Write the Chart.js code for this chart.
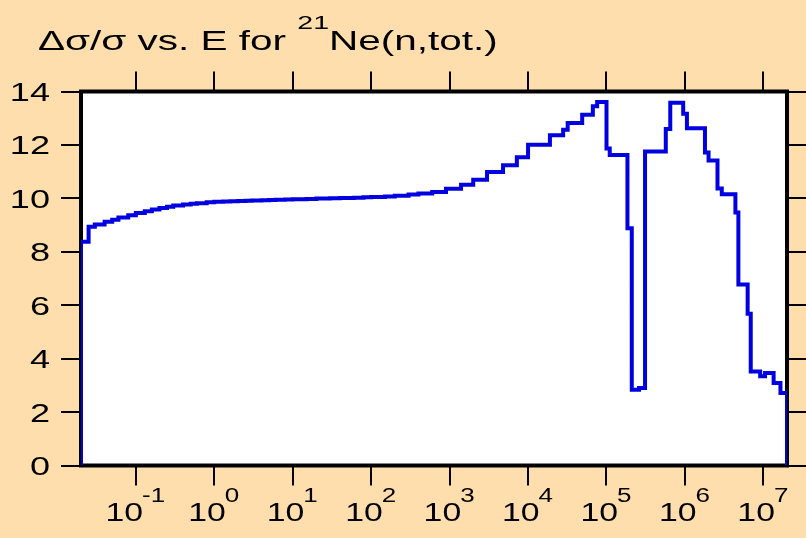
<!DOCTYPE html>
<html>
<head>
<meta charset="utf-8">
<script src="https://cdn.jsdelivr.net/npm/chart.js@4"></script>
<style>
  html, body { margin: 0; padding: 0; background: #FFDEAD; }
  canvas { display: block; }
</style>
</head>
<body>
<canvas id="uncChart" width="806" height="538"></canvas>
<script>
// ===== Data: relative uncertainty (%) per energy group, edges in eV =====
const energyEdges = [
    0.02, 0.025, 0.03, 0.04, 0.05, 0.06, 0.08, 0.1, 0.13, 0.16,
    0.2, 0.25, 0.3, 0.4, 0.5, 0.6, 0.8, 1, 1.3, 1.6,
    2, 2.5, 3, 4, 5, 6, 8, 10, 15, 20,
    30, 40, 60, 80, 100, 150, 200, 300, 400, 600,
    900, 1400, 2000, 3000, 4800, 7200, 1e4, 1.9e4, 2.8e4, 3.2e4,
    4.9e4, 6.7e4, 7.6e4, 1e5, 1.1e5, 1.85e5, 2.1e5, 2.6e5, 3.1e5, 5.7e5,
    6.5e5, 9.5e5, 1.06e6, 1.8e6, 2e6, 2.6e6, 2.95e6, 4.4e6, 4.8e6, 6.3e6,
    6.9e6, 9.1e6, 1.05e7, 1.35e7, 1.65e7, 2e7
];
const relUnc = [
    8.38, 8.94, 9.02, 9.12, 9.20, 9.28, 9.37, 9.45, 9.52, 9.58,
    9.64, 9.69, 9.73, 9.77, 9.80, 9.82, 9.85, 9.87, 9.88, 9.89,
    9.90, 9.91, 9.92, 9.93, 9.94, 9.95, 9.96, 9.97, 9.98, 9.99,
    10.00, 10.01, 10.02, 10.04, 10.05, 10.07, 10.10, 10.14, 10.18, 10.24,
    10.36, 10.51, 10.70, 10.99, 11.24, 11.54, 12.01, 12.36, 12.57, 12.82,
    13.13, 13.45, 13.61, 11.87, 11.62, 8.88, 2.84, 2.90, 11.75, 12.60,
    13.58, 13.17, 12.62, 11.72, 11.42, 10.37, 10.15, 9.47, 6.78, 5.68,
    3.52, 3.34, 3.46, 3.09, 2.71
];
const xTickValues = [0.1, 1, 10, 100, 1e3, 1e4, 1e5, 1e6, 1e7];
const xTickExponents = ['-1', '0', '1', '2', '3', '4', '5', '6', '7'];
const yTickValues = [0, 2, 4, 6, 8, 10, 12, 14];
const xRange = [0.02, 2e7];
const yRange = [0, 14];

// histogram outline: start at zero, one point per group, drop back to zero
const histPoints = [{ x: energyEdges[0], y: 0 }];
relUnc.forEach((v, i) => histPoints.push({ x: energyEdges[i], y: v }));
histPoints.push({ x: energyEdges[energyEdges.length - 1], y: 0 });

// ===== Text helpers (glyphs are drawn wide) =====
const FONT = '"Liberation Sans", Arial, sans-serif';

function wideText(ctx, text, x, y, size, sx) {
    ctx.save();
    ctx.font = size + 'px ' + FONT;
    ctx.translate(x, y);
    ctx.scale(sx, 1);
    ctx.fillText(text, 0, 0);
    ctx.restore();
}
function wideWidth(ctx, text, size, sx) {
    ctx.font = size + 'px ' + FONT;
    return ctx.measureText(text).width * sx;
}

const framePlugin = {
    id: 'frame',
    beforeDraw(chart) {
        const { ctx, chartArea: a } = chart;
        ctx.save();
        ctx.fillStyle = '#FFDEAD';
        ctx.fillRect(0, 0, chart.width, chart.height);
        ctx.fillStyle = '#ffffff';
        ctx.fillRect(a.left, a.top, a.right - a.left, a.bottom - a.top);
        ctx.restore();
    },
    beforeDatasetsDraw(chart) {
        const { ctx, chartArea: a } = chart;
        ctx.save();
        ctx.strokeStyle = '#000';
        ctx.lineWidth = 4;
        ctx.strokeRect(a.left, a.top, a.right - a.left, a.bottom - a.top);
        ctx.restore();
    },
    afterDraw(chart) {
        const { ctx } = chart;
        const xs = chart.scales.x, ys = chart.scales.y;
        const sx = 1.39;
        ctx.save();
        ctx.fillStyle = '#000';
        ctx.textBaseline = 'alphabetic';
        ctx.textAlign = 'left';

        // y labels, right aligned against the tick marks
        yTickValues.forEach(v => {
            const t = String(v);
            const w = wideWidth(ctx, t, 26, sx);
            wideText(ctx, t, 50 - w, ys.getPixelForValue(v) + 9.5, 26, sx);
        });

        // x labels as powers of ten
        xTickValues.forEach((v, i) => {
            const exp = xTickExponents[i];
            const wb = wideWidth(ctx, '10', 26, 1.3);
            const we = wideWidth(ctx, exp, 20, 1.3);
            const x0 = xs.getPixelForValue(v) - (wb + we) / 2;
            wideText(ctx, '10', x0, 521, 26, 1.3);
            wideText(ctx, exp, x0 + wb - 1, 502, 20, 1.3);
        });

        // title
        const ts = 1.5;
        let tx = 38;
        const part1 = '\u0394\u03c3/\u03c3 vs. E for ';
        wideText(ctx, part1, tx, 49.5, 27, ts);
        tx += wideWidth(ctx, part1, 27, ts);
        wideText(ctx, '21', tx, 29, 19, ts);
        tx += wideWidth(ctx, '21', 19, ts);
        wideText(ctx, 'Ne(n,tot.)', tx, 49.5, 27, ts);
        ctx.restore();
    }
};

const decadeTicks = s => { s.ticks = xTickValues.map(v => ({ value: v })); };
const tickGrid = { display: true, drawOnChartArea: false, drawTicks: true, tickLength: 20, color: '#000', lineWidth: 2 };

const ctx = document.getElementById('uncChart').getContext('2d');
new Chart(ctx, {
    type: 'line',
    data: {
        datasets: [{
            data: histPoints,
            stepped: 'before',
            borderColor: '#0000E0',
            borderWidth: 4,
            pointRadius: 0,
            fill: false,
            clip: 0
        }]
    },
    options: {
        responsive: false,
        animation: false,
        layout: { padding: { left: 0, right: 0, top: 71.5, bottom: 0 } },
        plugins: { legend: { display: false }, tooltip: { enabled: false }, title: { display: false } },
        scales: {
            x: {
                type: 'logarithmic', position: 'bottom', min: xRange[0], max: xRange[1],
                afterBuildTicks: decadeTicks,
                afterFit: s => { s.height = 72.5; },
                ticks: { display: false },
                grid: tickGrid, border: { display: false }
            },
            x2: {
                type: 'logarithmic', position: 'top', min: xRange[0], max: xRange[1],
                afterBuildTicks: decadeTicks,
                afterFit: s => { s.height = 20; },
                ticks: { display: false },
                grid: tickGrid, border: { display: false }
            },
            y: {
                type: 'linear', position: 'left', min: yRange[0], max: yRange[1],
                afterBuildTicks: s => { s.ticks = yTickValues.map(v => ({ value: v })); },
                afterFit: s => { s.width = 81; },
                ticks: { display: false },
                grid: tickGrid, border: { display: false }
            },
            y2: {
                type: 'linear', position: 'right', min: yRange[0], max: yRange[1],
                afterBuildTicks: s => { s.ticks = yTickValues.map(v => ({ value: v })); },
                afterFit: s => { s.width = 19; },
                ticks: { display: false },
                grid: tickGrid, border: { display: false }
            }
        }
    },
    plugins: [framePlugin]
});
</script>
</body>
</html>
